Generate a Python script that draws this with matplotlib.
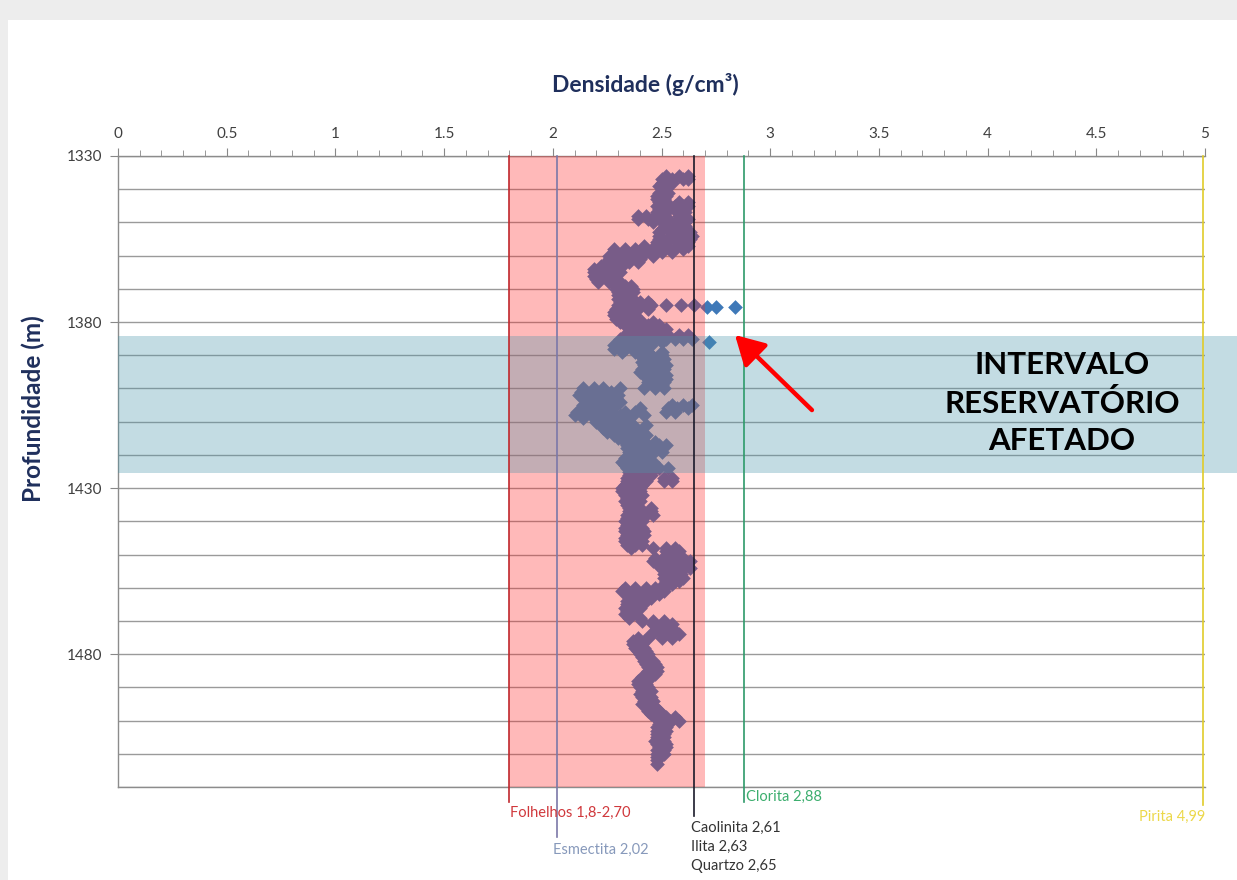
import matplotlib
matplotlib.use("Agg")
import matplotlib.pyplot as plt
from matplotlib.patches import Rectangle
from matplotlib.transforms import blended_transform_factory
from matplotlib.ticker import MultipleLocator

plt.rcParams['font.family'] = ['Lato', 'DejaVu Sans']

# ---------------- data ----------------
x_ticks = [0, 0.5, 1, 1.5, 2, 2.5, 3, 3.5, 4, 4.5, 5]
x_tick_labels = ["0", "0.5", "1", "1.5", "2", "2.5", "3", "3.5", "4", "4.5", "5"]
y_ticks = [1330, 1380, 1430, 1480]

depth_m = [
    1336, 1337, 1338, 1339, 1340, 1341, 1342, 1343, 1344, 1345,
    1346, 1347, 1348, 1349, 1350, 1351, 1352, 1353, 1354, 1355,
    1356, 1357, 1358, 1359, 1360, 1361, 1362, 1363, 1364, 1365,
    1366, 1367, 1368, 1369, 1370, 1371, 1372, 1373, 1374, 1375,
    1376, 1377, 1378, 1379, 1380, 1381, 1382, 1383, 1384, 1385,
    1386, 1387, 1388, 1389, 1390, 1391, 1392, 1393, 1394, 1395,
    1396, 1397, 1398, 1399, 1400, 1401, 1402, 1403, 1404, 1405,
    1406, 1407, 1408, 1409, 1410, 1411, 1412, 1413, 1414, 1415,
    1416, 1417, 1418, 1419, 1420, 1421, 1422, 1423, 1424, 1425,
    1426, 1427, 1428, 1429, 1430, 1431, 1432, 1433, 1434, 1435,
    1436, 1437, 1438, 1439, 1440, 1441, 1442, 1443, 1444, 1445,
    1446, 1447, 1448, 1449, 1450, 1451, 1452, 1453, 1454, 1455,
    1456, 1457, 1458, 1459, 1460, 1461, 1462, 1463, 1464, 1465,
    1466, 1467, 1468, 1469, 1470, 1471, 1472, 1473, 1474, 1475,
    1476, 1477, 1478, 1479, 1480, 1481, 1482, 1483, 1484, 1485,
    1486, 1487, 1488, 1489, 1490, 1491, 1492, 1493, 1494, 1495,
    1496, 1497, 1498, 1499, 1500, 1501, 1502, 1503, 1504, 1505,
    1506, 1507, 1508, 1509, 1510, 1511, 1512, 1513,
]

density_gcc = [
    [2.52, 2.58, 2.62], [2.50, 2.55, 2.60, 2.62], [2.50, 2.55], [2.49, 2.53], [2.50, 2.52],
    [2.49, 2.53], [2.48, 2.52], [2.48, 2.51], [2.49, 2.52, 2.58, 2.62], [2.48, 2.52, 2.56, 2.60, 2.62],
    [2.49, 2.53, 2.57], [2.48, 2.52, 2.57, 2.61], [2.39, 2.43, 2.47, 2.51, 2.58], [2.39, 2.44, 2.49, 2.53, 2.58, 2.62], [2.46, 2.51, 2.57, 2.61],
    [2.52, 2.57, 2.61], [2.50, 2.55, 2.60], [2.49, 2.54, 2.59, 2.63], [2.49, 2.54, 2.58, 2.62, 2.64], [2.49, 2.53, 2.58, 2.63],
    [2.48, 2.52, 2.57, 2.62], [2.42, 2.47, 2.52, 2.57, 2.62], [2.28, 2.33, 2.38, 2.43, 2.49, 2.54, 2.60], [2.28, 2.34, 2.40, 2.45, 2.50, 2.55], [2.26, 2.31, 2.36, 2.41, 2.46],
    [2.26, 2.31, 2.36, 2.40], [2.25, 2.30, 2.35, 2.39], [2.22, 2.27, 2.32], [2.19, 2.24, 2.29], [2.19, 2.23, 2.28, 2.31],
    [2.19, 2.22, 2.27], [2.20, 2.25, 2.29], [2.21, 2.26, 2.31], [2.29, 2.33, 2.36], [2.29, 2.33, 2.37],
    [2.30, 2.34, 2.37], [2.30, 2.35], [2.30, 2.34, 2.37], [2.31, 2.36, 2.40, 2.44], [2.30, 2.35, 2.40, 2.45, 2.52, 2.59, 2.65],
    [2.29, 2.34, 2.39, 2.44], [2.28, 2.33, 2.37], [2.28, 2.33, 2.38], [2.29, 2.34, 2.38], [2.31, 2.36, 2.41, 2.46],
    [2.33, 2.38, 2.44, 2.49], [2.36, 2.42, 2.47, 2.52], [2.38, 2.43, 2.48], [2.33, 2.38, 2.43, 2.48, 2.53, 2.58, 2.62], [2.31, 2.36, 2.41, 2.46, 2.52, 2.56, 2.60, 2.64],
    [2.30, 2.35, 2.40, 2.45, 2.50], [2.28, 2.33, 2.38, 2.45], [2.28, 2.33, 2.38, 2.43], [2.32, 2.38, 2.44, 2.50], [2.40, 2.45, 2.50],
    [2.42, 2.47, 2.51], [2.41, 2.45, 2.50], [2.42, 2.47, 2.52], [2.41, 2.46, 2.51], [2.40, 2.45, 2.50],
    [2.42, 2.47, 2.52], [2.44, 2.48, 2.52], [2.44, 2.48, 2.51], [2.46, 2.50], [2.14, 2.19, 2.23, 2.31, 2.42, 2.47, 2.51],
    [2.13, 2.18, 2.23, 2.27], [2.12, 2.16, 2.21, 2.26, 2.30], [2.14, 2.19, 2.24, 2.29], [2.17, 2.22, 2.26, 2.31], [2.14, 2.19, 2.24, 2.29, 2.55, 2.60, 2.64],
    [2.15, 2.20, 2.25, 2.40, 2.53, 2.57, 2.62], [2.11, 2.16, 2.21, 2.27, 2.33, 2.38, 2.52, 2.56], [2.10, 2.15, 2.20, 2.26, 2.31, 2.37, 2.42], [2.14, 2.19, 2.24, 2.29, 2.34], [2.20, 2.25, 2.30, 2.35],
    [2.22, 2.27, 2.32, 2.37, 2.43], [2.23, 2.28, 2.33, 2.38], [2.25, 2.30, 2.35, 2.40], [2.28, 2.33, 2.38, 2.43], [2.30, 2.35, 2.40],
    [2.33, 2.37, 2.42, 2.47], [2.34, 2.39, 2.44, 2.49, 2.52], [2.34, 2.39, 2.44, 2.49], [2.35, 2.40, 2.45, 2.50], [2.35, 2.40, 2.45],
    [2.33, 2.38, 2.43], [2.32, 2.37, 2.42, 2.46], [2.33, 2.38, 2.43], [2.34, 2.39, 2.44, 2.49, 2.53], [2.35, 2.40, 2.45],
    [2.35, 2.40, 2.45], [2.34, 2.38, 2.43, 2.51, 2.55], [2.34, 2.38, 2.43, 2.51, 2.55], [2.33, 2.37, 2.41], [2.32, 2.36, 2.40],
    [2.32, 2.36, 2.40], [2.33, 2.37, 2.41], [2.34, 2.38], [2.33, 2.37, 2.40], [2.34, 2.38],
    [2.35, 2.40, 2.45], [2.35, 2.40, 2.45], [2.34, 2.39, 2.43, 2.46], [2.34, 2.38], [2.33, 2.37, 2.41],
    [2.34, 2.38], [2.33, 2.37, 2.41], [2.33, 2.37, 2.42], [2.34, 2.38, 2.42], [2.33, 2.37],
    [2.33, 2.37, 2.41], [2.34, 2.38, 2.41], [2.36, 2.46, 2.52, 2.56], [2.52, 2.56, 2.58], [2.52, 2.56],
    [2.47, 2.51, 2.55, 2.60], [2.46, 2.50, 2.55, 2.59, 2.63], [2.48, 2.52, 2.57, 2.61], [2.51, 2.55, 2.60, 2.63], [2.51, 2.55, 2.59],
    [2.51, 2.55, 2.59], [2.51, 2.55, 2.60], [2.52, 2.56, 2.58], [2.51, 2.55], [2.33, 2.38, 2.43, 2.47, 2.51],
    [2.32, 2.37, 2.42, 2.47, 2.51], [2.34, 2.39, 2.44, 2.49], [2.35, 2.40, 2.45], [2.34, 2.38, 2.43], [2.34, 2.38],
    [2.33, 2.37, 2.40], [2.34, 2.38], [2.33, 2.37], [2.35, 2.40], [2.41, 2.46, 2.51],
    [2.46, 2.50, 2.55], [2.48, 2.52, 2.55], [2.47, 2.51], [2.45, 2.50, 2.55, 2.58], [2.39, 2.44, 2.50, 2.55],
    [2.37, 2.42], [2.37, 2.41], [2.38, 2.42], [2.39, 2.43], [2.40, 2.44],
    [2.41, 2.44], [2.42, 2.46], [2.43, 2.47], [2.44, 2.48], [2.44, 2.48],
    [2.43, 2.47], [2.41, 2.45], [2.39, 2.43], [2.39, 2.43], [2.40, 2.44],
    [2.41, 2.45], [2.40, 2.44], [2.41, 2.45], [2.42, 2.46], [2.41, 2.45],
    [2.43, 2.47], [2.44, 2.49], [2.45, 2.50], [2.47, 2.52, 2.56], [2.49, 2.54, 2.58],
    [2.49, 2.53], [2.48, 2.52], [2.48, 2.52], [2.48, 2.51], [2.48, 2.51],
    [2.47, 2.51], [2.48, 2.52], [2.49, 2.52], [2.48, 2.51], [2.48, 2.51],
    [2.48], [2.48], [2.48],
]

outlier_depth = [1375.5, 1375.5, 1375.5, 1385.9]
outlier_density = [2.71, 2.75, 2.84, 2.72]

# reference mineral densities
folhelho_range = [1.8, 2.70]
esmectita = 2.02
caolinita_ilita_quartzo = 2.65
clorita = 2.88
pirita = 4.99
reservoir_interval = [1384.2, 1425.5]

# ---------------- figure ----------------
W, H = 1237, 880
fig = plt.figure(figsize=(W / 100, H / 100), dpi=100)
fig.patch.set_facecolor('white')
fig.patches.append(Rectangle((0, 1 - 20 / H), 1, 20 / H, transform=fig.transFigure,
                             facecolor='#ededed', edgecolor='none', zorder=0))
fig.patches.append(Rectangle((0, 0), 8 / W, 1, transform=fig.transFigure,
                             facecolor='#ededed', edgecolor='none', zorder=0))

ax_l, ax_r, ax_t, ax_b = 118, 1205, 156, 787
ax = fig.add_axes([ax_l / W, 1 - ax_b / H, (ax_r - ax_l) / W, (ax_b - ax_t) / H])
ax.set_xlim(0, 5)
ax.set_ylim(1520, 1330)

# axis styling
ax.xaxis.tick_top()
ax.set_xticks(x_ticks)
ax.set_xticklabels(x_tick_labels)
ax.xaxis.set_minor_locator(MultipleLocator(0.1))
ax.tick_params(axis='x', which='major', length=6, color='#888888', labelsize=11,
               labelcolor='#404040', pad=5, top=True, bottom=False)
ax.tick_params(axis='x', which='minor', length=4, color='#888888', top=True, bottom=False)
ax.set_yticks(y_ticks)
ax.yaxis.set_minor_locator(MultipleLocator(10))
ax.tick_params(axis='y', which='major', length=6, color='#888888', labelsize=11,
               labelcolor='#404040', pad=5)
ax.tick_params(axis='y', which='minor', length=0)
ax.grid(axis='y', which='both', color='#9a9a9a', linewidth=1.0, zorder=1)
ax.set_axisbelow(True)
for side in ['top', 'left', 'bottom']:
    ax.spines[side].set_color('#8c8c8c')
    ax.spines[side].set_linewidth(1.0)
ax.spines['right'].set_visible(False)

# scatter
xs = [d for row in density_gcc for d in row]
ys = [z for z, row in zip(depth_m, density_gcc) for _ in row]
ax.scatter(xs + outlier_density, ys + outlier_depth, marker='D', s=56,
           color='#3f79b8', linewidths=0, zorder=2)

# pink shale band (drawn over the points, translucent)
ax.axvspan(folhelho_range[0], folhelho_range[1], color='#ff1a1a', alpha=0.30,
           linewidth=0, zorder=3)

# reservoir band extending to the right edge of the figure
bt = blended_transform_factory(ax.transAxes, ax.transData)
ax.add_patch(Rectangle((0, reservoir_interval[0]), (W - ax_l) / (ax_r - ax_l),
                       reservoir_interval[1] - reservoir_interval[0], transform=bt,
                       facecolor='#4b96aa', alpha=0.33, edgecolor='none',
                       clip_on=False, zorder=4))

# vertical reference lines with leaders below the axes
def vline(x, color, y_end_px):
    ymax = 1520 + (y_end_px - ax_b) / ((ax_b - ax_t) / 190.0)
    ax.plot([x, x], [1330, ymax], color=color, linewidth=1.2, clip_on=False, zorder=5)

vline(folhelho_range[0], '#c0282d', 802)
vline(esmectita, '#7b78a8', 837)
vline(caolinita_ilita_quartzo, '#1a1a2a', 816)
vline(clorita, '#2e9a6a', 802)
vline(pirita, '#e0cc2a', 805)

def ftext(xpx, ypx, s, **kw):
    fig.text(xpx / W, 1 - ypx / H, s, **kw)

lab = dict(fontsize=10.5, va='center')
ftext(510, 813, 'Folhelhos 1,8-2,70', color='#d0383c', ha='left', **lab)
ftext(553, 850, 'Esmectita 2,02', color='#8799bb', ha='left', **lab)
ftext(691, 828, 'Caolinita 2,61', color='#333333', ha='left', **lab)
ftext(691, 847, 'Ilita 2,63', color='#333333', ha='left', **lab)
ftext(691, 866, 'Quartzo 2,65', color='#333333', ha='left', **lab)
ftext(746, 797, 'Clorita 2,88', color='#3cae6e', ha='left', **lab)
ftext(1205, 817, 'Pirita 4,99', color='#ecd84a', ha='right', **lab)

# titles
ftext(645, 84, 'Densidade (g/cm³)', fontsize=16.5, fontweight='bold', color='#1f2f5c',
      ha='center', va='center')
ftext(33, 409, 'Profundidade (m)', fontsize=17.5, fontweight='bold', color='#1f2f5c',
      ha='center', va='center', rotation=90)

# annotation
ax.text(4.342, 1404.4, 'INTERVALO\nRESERVATÓRIO\nAFETADO', fontsize=22.5, fontweight='bold',
        color='black', ha='center', va='center', linespacing=1.4, zorder=7)
ax.annotate('', xy=(2.838, 1383.9), xytext=(3.192, 1406.5),
            arrowprops=dict(arrowstyle='-|>,head_length=0.8,head_width=0.45', color='#ff0000',
                            lw=3.2, mutation_scale=22, shrinkA=0, shrinkB=0),
            zorder=7)

fig.savefig('out.png', dpi=100)
